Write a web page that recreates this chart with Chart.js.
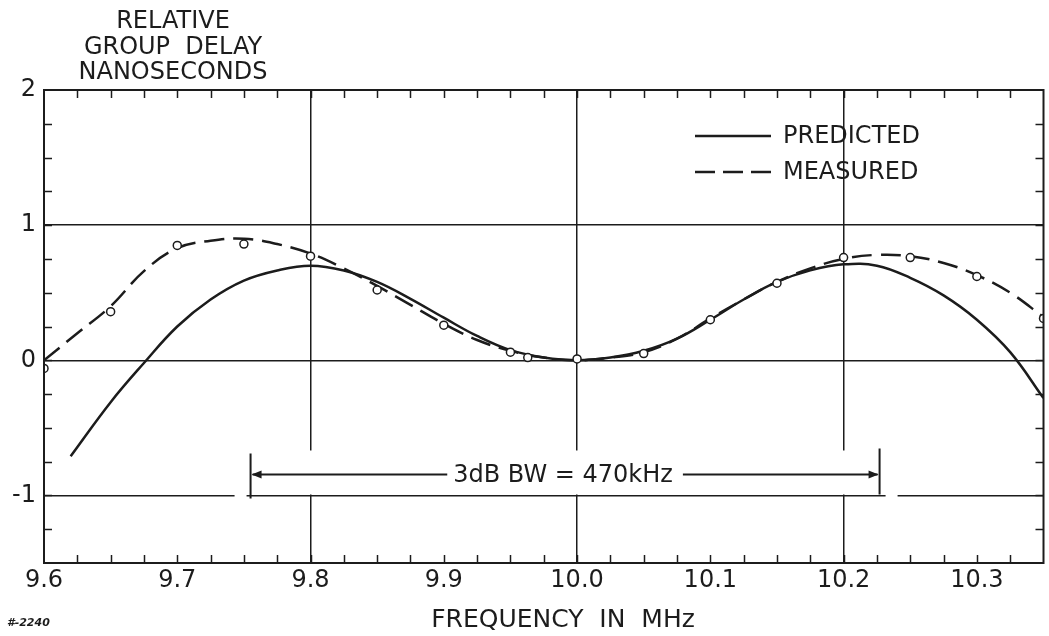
<!DOCTYPE html>
<html>
<head>
<meta charset="utf-8">
<script src="https://cdn.jsdelivr.net/npm/chart.js@4.4.1/dist/chart.umd.min.js"></script>
<style>
  html, body { margin: 0; padding: 0; background: #fff; }
  #wrap { width: 1049px; height: 636px; position: relative; }
</style>
</head>
<body>
<div id="wrap"><canvas id="delayChart"></canvas></div>
<script>
// Data (frequency in MHz, relative group delay in ns)
const predictedFreq = [9.62, 9.65, 9.675, 9.7, 9.725, 9.75, 9.775, 9.8, 9.825, 9.85, 9.875, 9.9, 9.925, 9.95, 9.975,
  10.0, 10.025, 10.05, 10.075, 10.1, 10.125, 10.15, 10.175, 10.2, 10.225, 10.25, 10.275, 10.3, 10.325, 10.35];
const predictedDelay = [-0.71, -0.31, -0.02, 0.25, 0.45, 0.59, 0.665, 0.7, 0.665, 0.58, 0.455, 0.315, 0.18, 0.075, 0.02,
  0.0, 0.02, 0.07, 0.16, 0.3, 0.45, 0.58, 0.665, 0.71, 0.7, 0.61, 0.48, 0.3, 0.06, -0.28];

const measuredFreq = [9.6, 9.625, 9.65, 9.675, 9.7, 9.725, 9.75, 9.775, 9.8, 9.825, 9.85, 9.875, 9.9, 9.925, 9.95, 9.975,
  10.0, 10.025, 10.05, 10.075, 10.1, 10.125, 10.15, 10.175, 10.2, 10.225, 10.25, 10.275, 10.3, 10.325, 10.35];
const measuredDelay = [0.0, 0.2, 0.4, 0.66, 0.83, 0.885, 0.9, 0.86, 0.79, 0.68, 0.55, 0.41, 0.27, 0.15, 0.07, 0.02,
  0.0, 0.02, 0.06, 0.16, 0.31, 0.45, 0.58, 0.68, 0.75, 0.78, 0.77, 0.72, 0.63, 0.5, 0.32];

const pointFreq = [9.6, 9.65, 9.7, 9.75, 9.8, 9.85, 9.9, 9.95, 9.963, 10.0, 10.05, 10.1, 10.15, 10.2, 10.25, 10.3, 10.35];
const pointDelay = [-0.06, 0.36, 0.85, 0.86, 0.77, 0.52, 0.26, 0.06, 0.02, 0.01, 0.05, 0.3, 0.57, 0.76, 0.76, 0.62, 0.31];

// Axes
const xTicks = [9.6, 9.7, 9.8, 9.9, 10.0, 10.1, 10.2, 10.3];
const xGrid = [9.8, 10.0, 10.2];
const yTicks = [-1.5, -1, 0, 1, 2];
const yTickLabels = ["", "-1", "0", "1", "2"];
const yGrid = [-1, 0, 1];
const xMinorStep = 0.025;
const yMinorStep = 0.25;

// 3 dB bandwidth marker
const bwStart = 9.755;
const bwEnd = 10.227;
const bwLevel = -0.845;
const bwText = "3dB BW = 470kHz";

const INK = "#1c1c1c";
const FONT = "DejaVu Sans";

function near(list, v) {
  return list.some((g) => Math.abs(g - v) < 1e-6);
}

// frame, inward ticks, titles, legend and bandwidth marker
const decorations = {
  id: "decorations",
  beforeDatasetsDraw(chart) {
    const { ctx, scales } = chart;
    const x = scales.x, y = scales.y;
    const xs = x.getPixelForValue(bwStart);
    const xe = x.getPixelForValue(bwEnd);
    const yb = y.getPixelForValue(bwLevel);
    // clear the grid behind the marker
    ctx.save();
    ctx.fillStyle = "#fff";
    ctx.fillRect(xs - 10, yb - 24, xe - xs + 20, 44);
    const ym = y.getPixelForValue(-1);
    ctx.fillRect(xs - 16, ym - 3, 12, 6);
    ctx.fillRect(xe + 6, ym - 3, 12, 6);
    ctx.restore();
  },
  afterDatasetsDraw(chart) {
    const { ctx, chartArea: a, scales } = chart;
    const x = scales.x, y = scales.y;
    ctx.save();
    ctx.strokeStyle = INK;
    ctx.fillStyle = INK;

    // frame
    ctx.lineWidth = 2;
    ctx.strokeRect(a.left, a.top, a.right - a.left, a.bottom - a.top);

    // minor ticks pointing inward
    ctx.lineWidth = 1.5;
    const tl = 8;
    ctx.beginPath();
    for (let v = x.min + xMinorStep; v < x.max - 1e-6; v += xMinorStep) {
      const px = Math.round(x.getPixelForValue(v)) + 0.5;
      ctx.moveTo(px, a.top); ctx.lineTo(px, a.top + tl);
      ctx.moveTo(px, a.bottom); ctx.lineTo(px, a.bottom - tl);
    }
    for (let v = y.min + yMinorStep; v < y.max - 1e-6; v += yMinorStep) {
      const py = Math.round(y.getPixelForValue(v)) + 0.5;
      ctx.moveTo(a.left, py); ctx.lineTo(a.left + tl, py);
      ctx.moveTo(a.right, py); ctx.lineTo(a.right - tl, py);
    }
    ctx.stroke();

    // bandwidth marker
    const xs = x.getPixelForValue(bwStart);
    const xe = x.getPixelForValue(bwEnd);
    const yb = y.getPixelForValue(bwLevel);
    ctx.lineWidth = 2;
    ctx.beginPath();
    ctx.moveTo(xs, yb - 21); ctx.lineTo(xs, yb + 24);
    ctx.moveTo(xe, yb - 26); ctx.lineTo(xe, yb + 20);
    ctx.stroke();
    ctx.font = "24px " + FONT;
    ctx.textAlign = "center";
    ctx.textBaseline = "middle";
    const tx = (xs + xe) / 2 - 2;
    const tw = ctx.measureText(bwText).width;
    ctx.fillText(bwText, tx, yb + 1);
    ctx.beginPath();
    ctx.moveTo(xs + 2, yb); ctx.lineTo(tx - tw / 2 - 6, yb);
    ctx.moveTo(tx + tw / 2 + 10, yb); ctx.lineTo(xe - 2, yb);
    ctx.stroke();
    ctx.beginPath();
    ctx.moveTo(xs + 1, yb); ctx.lineTo(xs + 11, yb - 4); ctx.lineTo(xs + 11, yb + 4); ctx.closePath();
    ctx.moveTo(xe - 1, yb); ctx.lineTo(xe - 11, yb - 4); ctx.lineTo(xe - 11, yb + 4); ctx.closePath();
    ctx.fill();

    // legend
    const lx = a.left + 651, ly = a.top + 46;
    ctx.lineWidth = 2.5;
    ctx.beginPath();
    ctx.moveTo(lx, ly); ctx.lineTo(lx + 76, ly);
    ctx.stroke();
    ctx.setLineDash([20, 8]);
    ctx.beginPath();
    ctx.moveTo(lx, ly + 36); ctx.lineTo(lx + 78, ly + 36);
    ctx.stroke();
    ctx.setLineDash([]);
    ctx.textAlign = "left";
    ctx.font = "24px " + FONT;
    ctx.fillText("PREDICTED", lx + 88, ly + 1);
    ctx.fillText("MEASURED", lx + 88, ly + 37);

    // axis titles
    ctx.textAlign = "center";
    ctx.fillText("RELATIVE", 173, 22);
    ctx.fillText("GROUP  DELAY", 173, 48);
    ctx.fillText("NANOSECONDS", 173, 73);
    ctx.font = "25px " + FONT;
    ctx.fillText("FREQUENCY  IN  MHz", 563, 620);

    ctx.font = "italic bold 11px " + FONT;
    ctx.textAlign = "left";
    ctx.fillText("#-2240", 7, 623);
    ctx.restore();
  }
};

const toXY = (xs, ys) => xs.map((v, i) => ({ x: v, y: ys[i] }));

new Chart(document.getElementById("delayChart"), {
  type: "line",
  data: {
    datasets: [
      {
        label: "Measured points",
        data: toXY(pointFreq, pointDelay),
        showLine: false,
        pointRadius: 4,
        pointBorderWidth: 1.5,
        pointBorderColor: INK,
        pointBackgroundColor: "#fff",
        order: 0
      },
      {
        label: "MEASURED",
        data: toXY(measuredFreq, measuredDelay),
        borderColor: INK,
        borderWidth: 2.5,
        borderDash: [20, 9],
        pointRadius: 0,
        tension: 0.4,
        order: 1
      },
      {
        label: "PREDICTED",
        data: toXY(predictedFreq, predictedDelay),
        borderColor: INK,
        borderWidth: 2.5,
        pointRadius: 0,
        tension: 0.4,
        order: 2
      }
    ]
  },
  options: {
    responsive: true,
    maintainAspectRatio: false,
    animation: false,
    events: [],
    layout: { padding: { top: 90, right: 2, left: 0, bottom: 0 } },
    plugins: {
      legend: { display: false },
      tooltip: { enabled: false }
    },
    scales: {
      x: {
        type: "linear",
        min: 9.6,
        max: 10.35,
        afterBuildTicks: (s) => { s.ticks = xTicks.map((v) => ({ value: v })); },
        afterFit: (s) => { s.height = 73; },
        ticks: {
          autoSkip: false,
          maxRotation: 0,
          padding: 3,
          color: INK,
          font: { family: FONT, size: 24 },
          callback: (v) => v.toFixed(1)
        },
        grid: {
          drawTicks: false,
          lineWidth: 1.5,
          color: (c) => (c.tick && near(xGrid, c.tick.value) ? INK : "rgba(0,0,0,0)")
        },
        border: { display: false }
      },
      y: {
        type: "linear",
        min: -1.5,
        max: 2,
        afterBuildTicks: (s) => { s.ticks = yTicks.map((v) => ({ value: v })); },
        afterFit: (s) => { s.width = 44; },
        ticks: {
          padding: 8,
          color: INK,
          font: { family: FONT, size: 24 },
          callback: (v, i) => yTickLabels[i]
        },
        grid: {
          drawTicks: false,
          lineWidth: 1.5,
          color: (c) => (c.tick && near(yGrid, c.tick.value) ? INK : "rgba(0,0,0,0)")
        },
        border: { display: false }
      }
    }
  },
  plugins: [decorations]
});
</script>
</body>
</html>
